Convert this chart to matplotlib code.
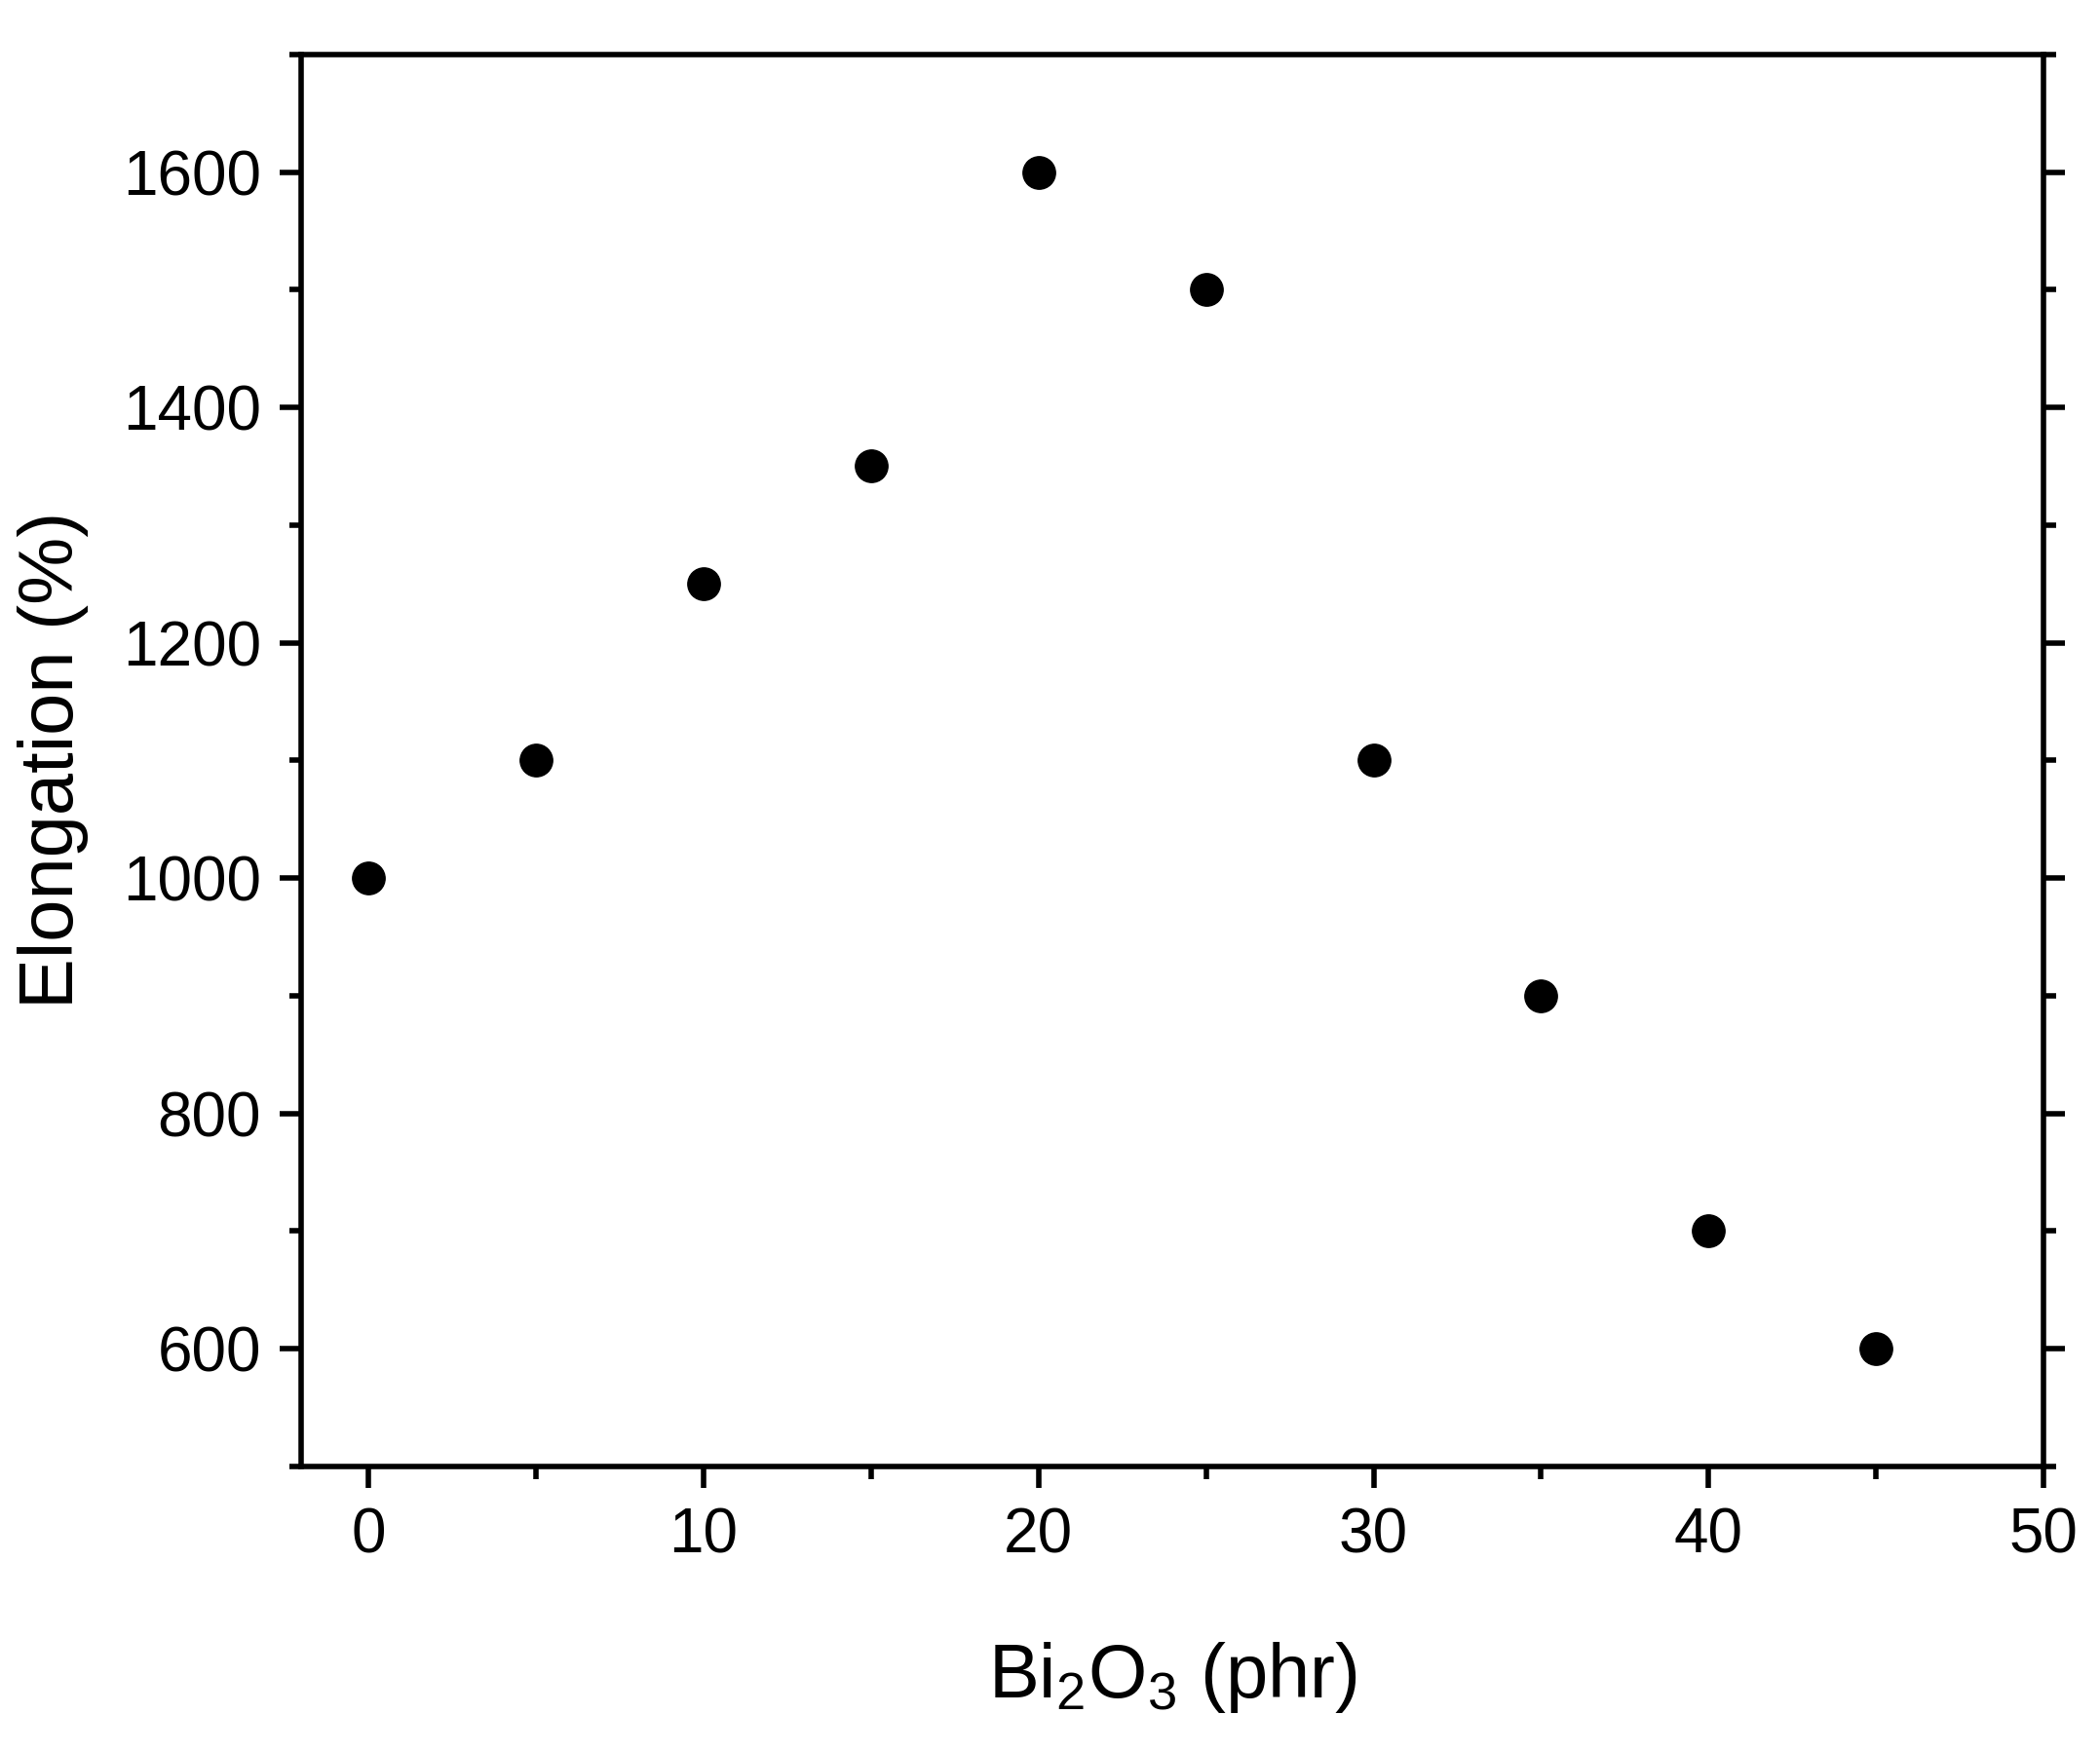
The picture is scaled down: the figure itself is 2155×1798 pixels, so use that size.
import matplotlib.pyplot as plt
from matplotlib.ticker import MultipleLocator

plt.rcParams['font.family'] = ['Liberation Sans', 'DejaVu Sans']
plt.rcParams['mathtext.fontset'] = 'custom'
plt.rcParams['mathtext.rm'] = 'Liberation Sans'
plt.rcParams['mathtext.it'] = 'Liberation Sans:italic'

bi2o3 = [0, 5, 10, 15, 20, 25, 30, 35, 40, 45]
elongation = [1000, 1100, 1250, 1350, 1600, 1500, 1100, 900, 700, 600]

fig = plt.figure(figsize=(21.55, 17.98), dpi=100)
ax = fig.add_axes([0.1436, 0.163, 0.8295, 0.806])
ax.plot(bi2o3, elongation, 'o', color='black', markersize=24)

ax.set_xlim(-2, 50)
ax.set_ylim(500, 1700)
ax.xaxis.set_major_locator(MultipleLocator(10))
ax.xaxis.set_minor_locator(MultipleLocator(5))
ax.yaxis.set_major_locator(MultipleLocator(200))
ax.yaxis.set_minor_locator(MultipleLocator(100))
ax.set_yticks([600, 800, 1000, 1200, 1400, 1600])

for s in ax.spines.values():
    s.set_linewidth(4)
ax.tick_params(which='both', direction='out', width=4, labelsize=46, pad=14)
ax.tick_params(which='major', length=16)
ax.tick_params(which='minor', length=9)
ax.tick_params(axis='y', which='both', right=True, direction='inout')
ax.tick_params(axis='y', which='both', left=True, direction='out')

ax.set_xlabel(r'Bi$_\mathrm{2}$O$_\mathrm{3}$ (phr)', fontsize=56, labelpad=55)
ax.set_ylabel('Elongation (%)', fontsize=56, labelpad=25)

fig.savefig('out.png', dpi=100)
